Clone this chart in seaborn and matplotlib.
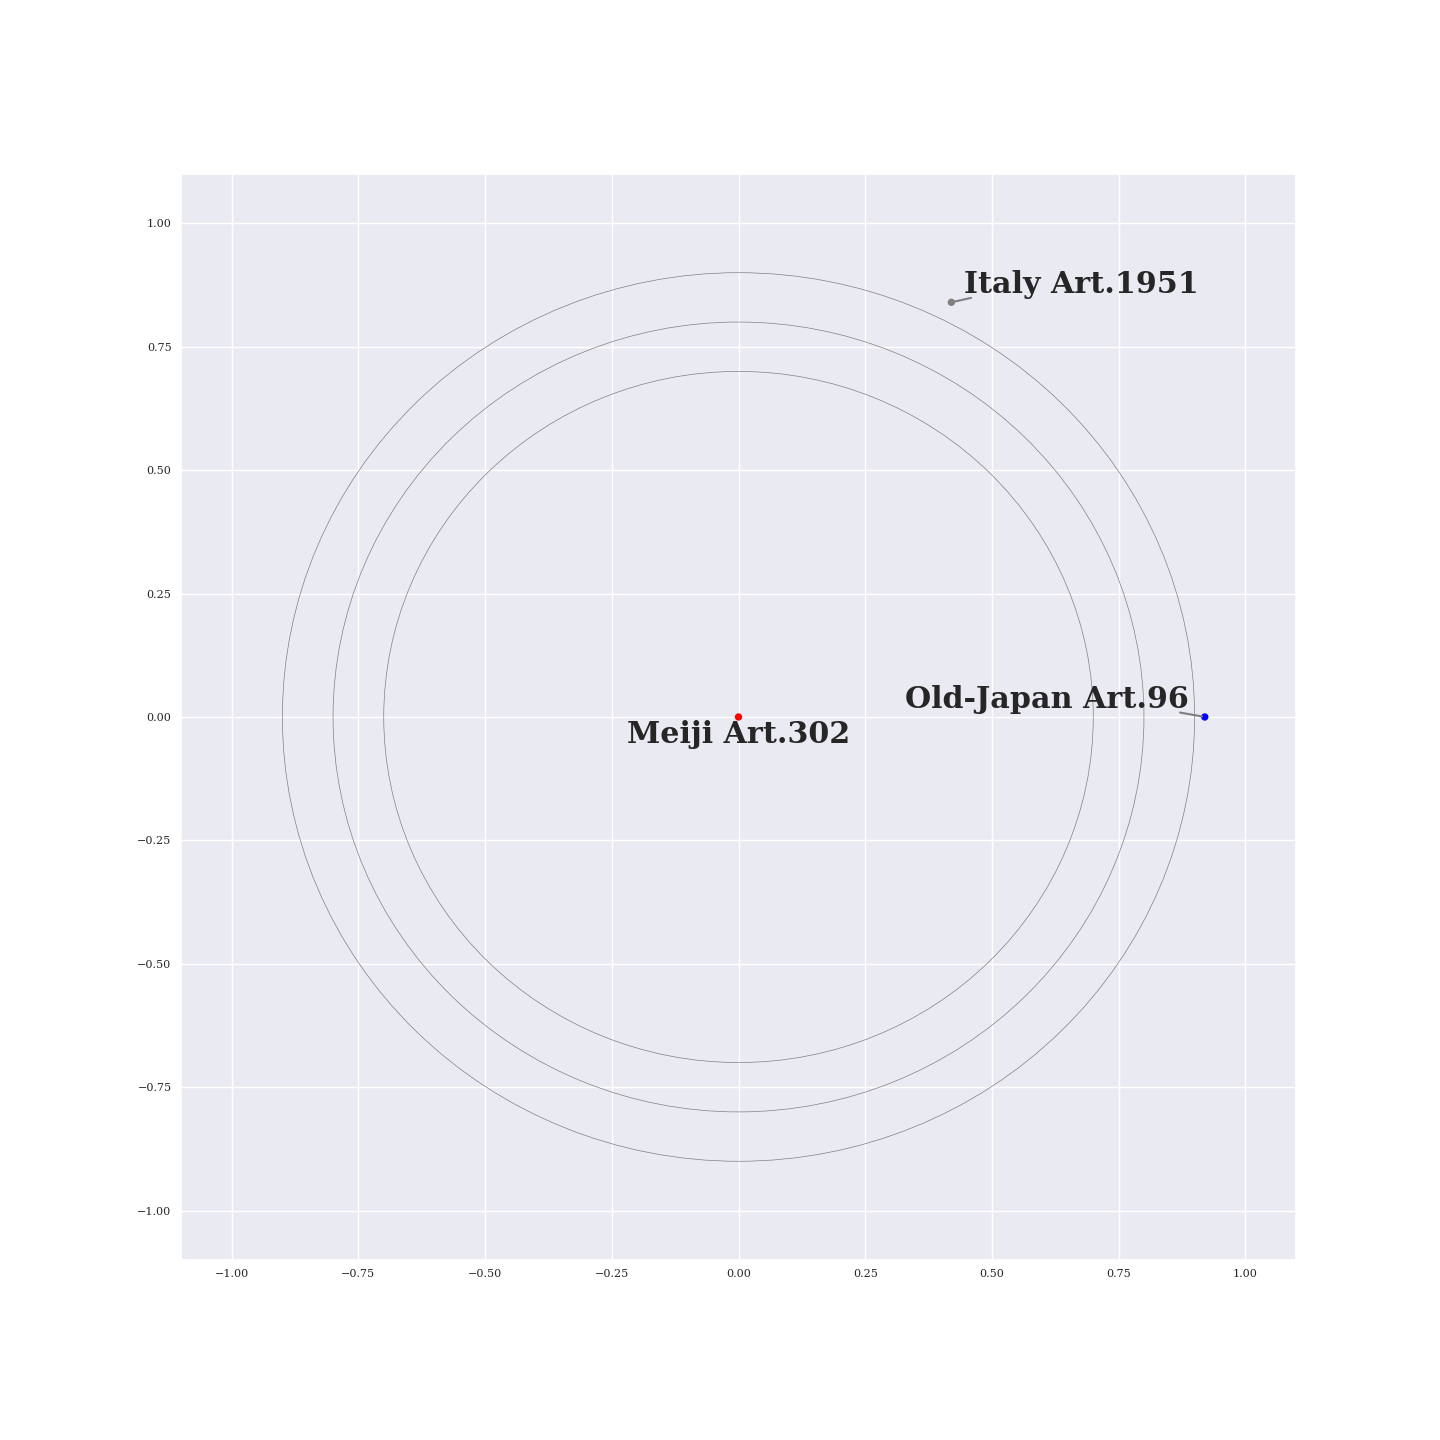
import matplotlib
matplotlib.use("Agg")
import matplotlib.pyplot as plt
import seaborn as sns
import pandas as pd
from matplotlib.patches import Circle

labels = ["Meiji Art.302", "Old-Japan Art.96", "Italy Art.1951"]
xs = [0.0, 0.92, 0.42]
ys = [0.0, 0.0, 0.84]
colors = ["red", "blue", "grey"]
radii = [0.7, 0.8, 0.9]

# label offsets (text anchor positions relative to point), styling only
text_offsets = [(0.0, -0.036), (-0.032, 0.036), (0.025, 0.036)]
text_ha = ["center", "right", "left"]
line_relpos = [None, (0.97, 0.04), (0.03, 0.04)]

sns.set_theme(style="darkgrid")
plt.rcParams["font.family"] = ["DejaVu Serif"]

fig = plt.figure(figsize=(14.4, 14.4), dpi=100)
ax = fig.add_subplot(111)
fig.subplots_adjust(left=0.1257, right=0.9, top=0.8792, bottom=0.125)

for r in radii:
    ax.add_patch(Circle((0, 0), r, fill=False, edgecolor="grey", linewidth=0.5, zorder=1))

df = pd.DataFrame({"x": xs, "y": ys, "label": labels})
sns.scatterplot(data=df, x="x", y="y", hue="label", palette=dict(zip(labels, colors)),
                s=28, edgecolor="none", legend=False, ax=ax, zorder=3)

for lab, x, y, (dx, dy), ha, rp in zip(labels, xs, ys, text_offsets, text_ha, line_relpos):
    props = None
    if rp is not None:
        props = dict(arrowstyle="-", color="grey", lw=1.5, shrinkA=0, shrinkB=2,
                     patchA=None, relpos=rp)
    ax.annotate(lab, xy=(x, y), xytext=(x + dx, y + dy), ha=ha, va="center",
                fontsize=21.7, fontweight="bold", color="#262626",
                arrowprops=props, zorder=4)

ax.set_xlim(-1.1, 1.1)
ax.set_ylim(-1.1, 1.1)
ax.set_xticks([-1.0, -0.75, -0.5, -0.25, 0.0, 0.25, 0.5, 0.75, 1.0])
ax.set_yticks([-1.0, -0.75, -0.5, -0.25, 0.0, 0.25, 0.5, 0.75, 1.0])
ax.tick_params(labelsize=8, pad=0.8)
ax.set_xlabel("")
ax.set_ylabel("")

fig.savefig("out.png", dpi=100)
